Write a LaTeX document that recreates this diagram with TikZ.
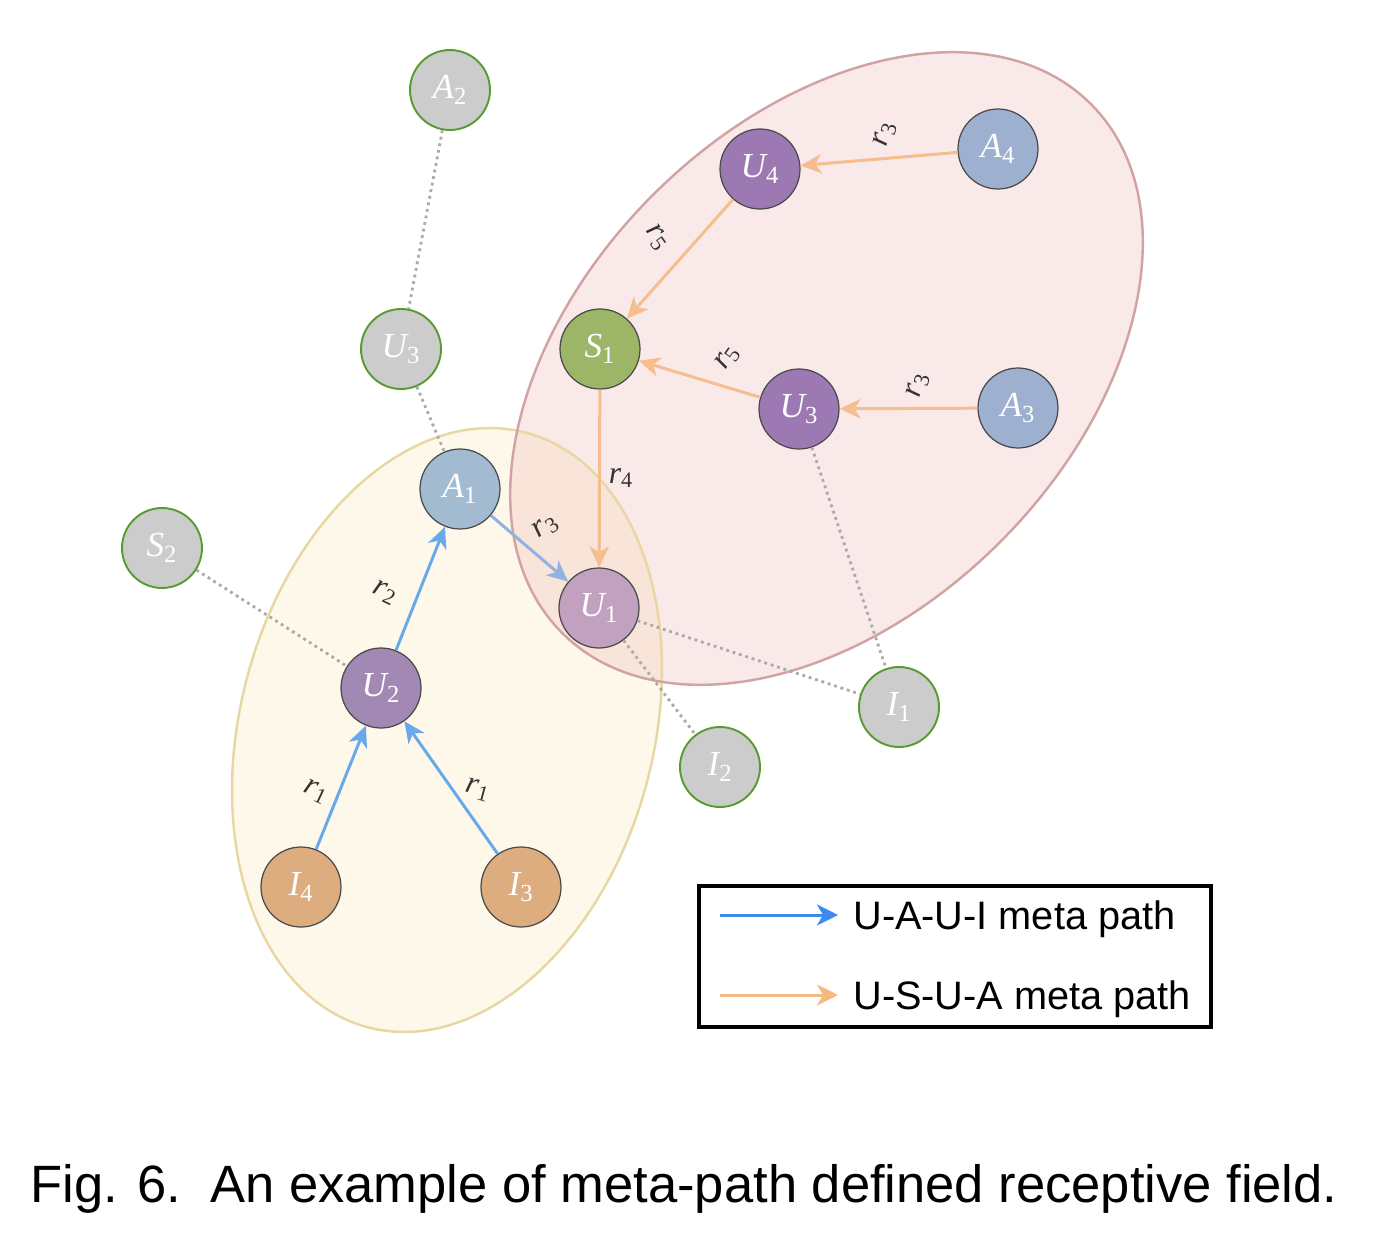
\documentclass[tikz,border=0pt]{standalone}
\usepackage{fontspec}
\setmainfont{Liberation Serif}
\newfontfamily\sansf{Liberation Sans}
\usetikzlibrary{arrows.meta}
\definecolor{gfill}{HTML}{CCCCCC}
\definecolor{gborder}{HTML}{5A9A32}
\definecolor{nborder}{HTML}{4A4A4A}
\definecolor{aone}{HTML}{A2BBD1}
\definecolor{athree}{HTML}{9EB0D0}
\definecolor{upurple}{HTML}{9D79B3}
\definecolor{utwo}{HTML}{A289B4}
\definecolor{uone}{HTML}{C1A1BF}
\definecolor{sgreen}{HTML}{9DB566}
\definecolor{itan}{HTML}{DDAD80}
\definecolor{orc}{HTML}{F6BD8E}
\definecolor{bluec}{HTML}{6AA9E9}
\definecolor{bluelight}{HTML}{8FB4E4}
\definecolor{dotc}{HTML}{AAAAAA}
\definecolor{redfill}{HTML}{E9A9A9}
\definecolor{redline}{HTML}{D2A3A3}
\definecolor{yelfill}{HTML}{F5DE95}
\definecolor{yelline}{HTML}{E8D7A2}
\definecolor{labc}{HTML}{333333}
\definecolor{legblue}{HTML}{3D8BF0}
\definecolor{legor}{HTML}{F5B982}
\newcommand\mylab[2]{{\itshape #1}\textsubscript{#2}}
\begin{document}
\begin{tikzpicture}[x=0.02cm,y=-0.02cm,
  nd/.style={circle, minimum size=1.6cm, inner sep=0pt, draw=nborder, line width=0.7pt,
    text=white, font=\fontsize{20}{20}\selectfont},
  gnode/.style={nd, fill=gfill, draw=gborder, line width=1.1pt},
  tip/.style={-{Stealth[length=12pt,width=11pt,inset=3.5pt]}},
  bluepath/.style={tip, draw=bluec, line width=1.7pt},
  orpath/.style={tip, draw=orc, line width=1.7pt},
  dots/.style={draw=dotc, line width=1.6pt, dash pattern=on 1.6pt off 2.2pt},
  rlab/.style={text=labc, font=\fontsize{18}{18}\selectfont, inner sep=0pt},
  legtext/.style={font=\sansf\fontsize{22.6}{22.6}\selectfont, anchor=base west, inner sep=0pt}]
\useasboundingbox (0,0) rectangle (1374,1234);

% ellipses
\path[fill=yelfill, fill opacity=0.2, rotate around={75:(447,730)}]
  (447,730) ellipse [x radius=6.154cm, y radius=4.134cm];
\path[fill=redfill, fill opacity=0.25, rotate around={45:(826.5,368.5)}]
  (826.5,368.5) ellipse [x radius=7.48cm, y radius=4.91cm];
\draw[yelline, line width=1.4pt, rotate around={75:(447,730)}]
  (447,730) ellipse [x radius=6.154cm, y radius=4.134cm];
\draw[redline, line width=1.4pt, rotate around={45:(826.5,368.5)}]
  (826.5,368.5) ellipse [x radius=7.48cm, y radius=4.91cm];

% nodes
\node[gnode] (A2) at (450,90) {\mylab{A}{2}};
\node[gnode] (U3g) at (401,349) {\mylab{U}{3}};
\node[nd, fill=aone] (A1) at (460,489) {\mylab{A}{1}};
\node[gnode] (S2) at (162,548) {\mylab{S}{2}};
\node[nd, fill=utwo] (U2) at (381,688) {\mylab{U}{2}};
\node[nd, fill=itan] (I4) at (301,887) {\mylab{I}{4}};
\node[nd, fill=itan] (I3) at (521,887) {\mylab{I}{3}};
\node[nd, fill=uone] (U1) at (599,608) {\mylab{U}{1}};
\node[gnode] (I2) at (720,767) {\mylab{I}{2}};
\node[gnode] (I1) at (899,707) {\mylab{I}{1}};
\node[nd, fill=sgreen] (S1) at (600,349) {\mylab{S}{1}};
\node[nd, fill=upurple] (U3) at (799,409) {\mylab{U}{3}};
\node[nd, fill=athree] (A3) at (1018,408) {\mylab{A}{3}};
\node[nd, fill=upurple] (U4) at (760,169) {\mylab{U}{4}};
\node[nd, fill=athree] (A4) at (998,149) {\mylab{A}{4}};

% dotted links
\draw[dots] (A2) -- (U3g);
\draw[dots] (U3g) -- (A1);
\draw[dots] (S2) -- (U2);
\draw[dots] (U1) -- (I1);
\draw[dots] (U1) -- (I2);
\draw[dots] (U3) -- (I1);

% meta path arrows
\draw[bluepath] (I4) -- (U2);
\draw[bluepath] (I3) -- (U2);
\draw[bluepath] (U2) -- (A1);
\draw[bluepath, draw=bluelight] (A1) -- (U1);
\draw[orpath] (A4) -- (U4);
\draw[orpath] (U4) -- (S1);
\draw[orpath] (A3) -- (U3);
\draw[orpath] (U3) -- (S1);
\draw[orpath] (S1) -- (U1);

% relation labels
\node[rlab, rotate=75] (l1) at (885,134) {\mylab{r}{3}};
\node[rlab, rotate=-55] (l2) at (657,238) {\mylab{r}{5}};
\node[rlab, rotate=55] (l3) at (728,358) {\mylab{r}{5}};
\node[rlab, rotate=75] (l4) at (918,385) {\mylab{r}{3}};
\node[rlab] (l5) at (621,478) {\mylab{r}{4}};
\node[rlab, rotate=35] (l6) at (546,527) {\mylab{r}{3}};
\node[rlab, rotate=-25] (l7) at (385,593) {\mylab{r}{2}};
\node[rlab, rotate=-25] (l8) at (316,792) {\mylab{r}{1}};
\node[rlab, rotate=-15] (l9) at (478,790) {\mylab{r}{1}};

% legend
\node[draw=black, line width=2pt, minimum width=10.24cm, minimum height=2.82cm, inner sep=0pt]
  (leg) at (955,956.5) {};
\coordinate (b0) at (720,915);
\coordinate (b1) at (838,915);
\coordinate (o0) at (720,995);
\coordinate (o1) at (838,995);
\draw[legblue, line width=1.7pt, -{Stealth[length=12pt,width=12pt,inset=3.5pt]}] (b0) -- (b1);
\draw[legor, line width=1.7pt, -{Stealth[length=12pt,width=12pt,inset=3.5pt]}] (o0) -- (o1);
\node[legtext] (t1) at (853,929) {U-A-U-I meta path};
\node[legtext] (t2) at (853,1009) {U-S-U-A meta path};

% caption
\node[font=\sansf\fontsize{29.9}{29.9}\selectfont, anchor=base west, inner sep=0pt]
  (cap) at (30,1202) {Fig. 6.\ \ An example of meta-path defined receptive field.};
\end{tikzpicture}
\end{document}
